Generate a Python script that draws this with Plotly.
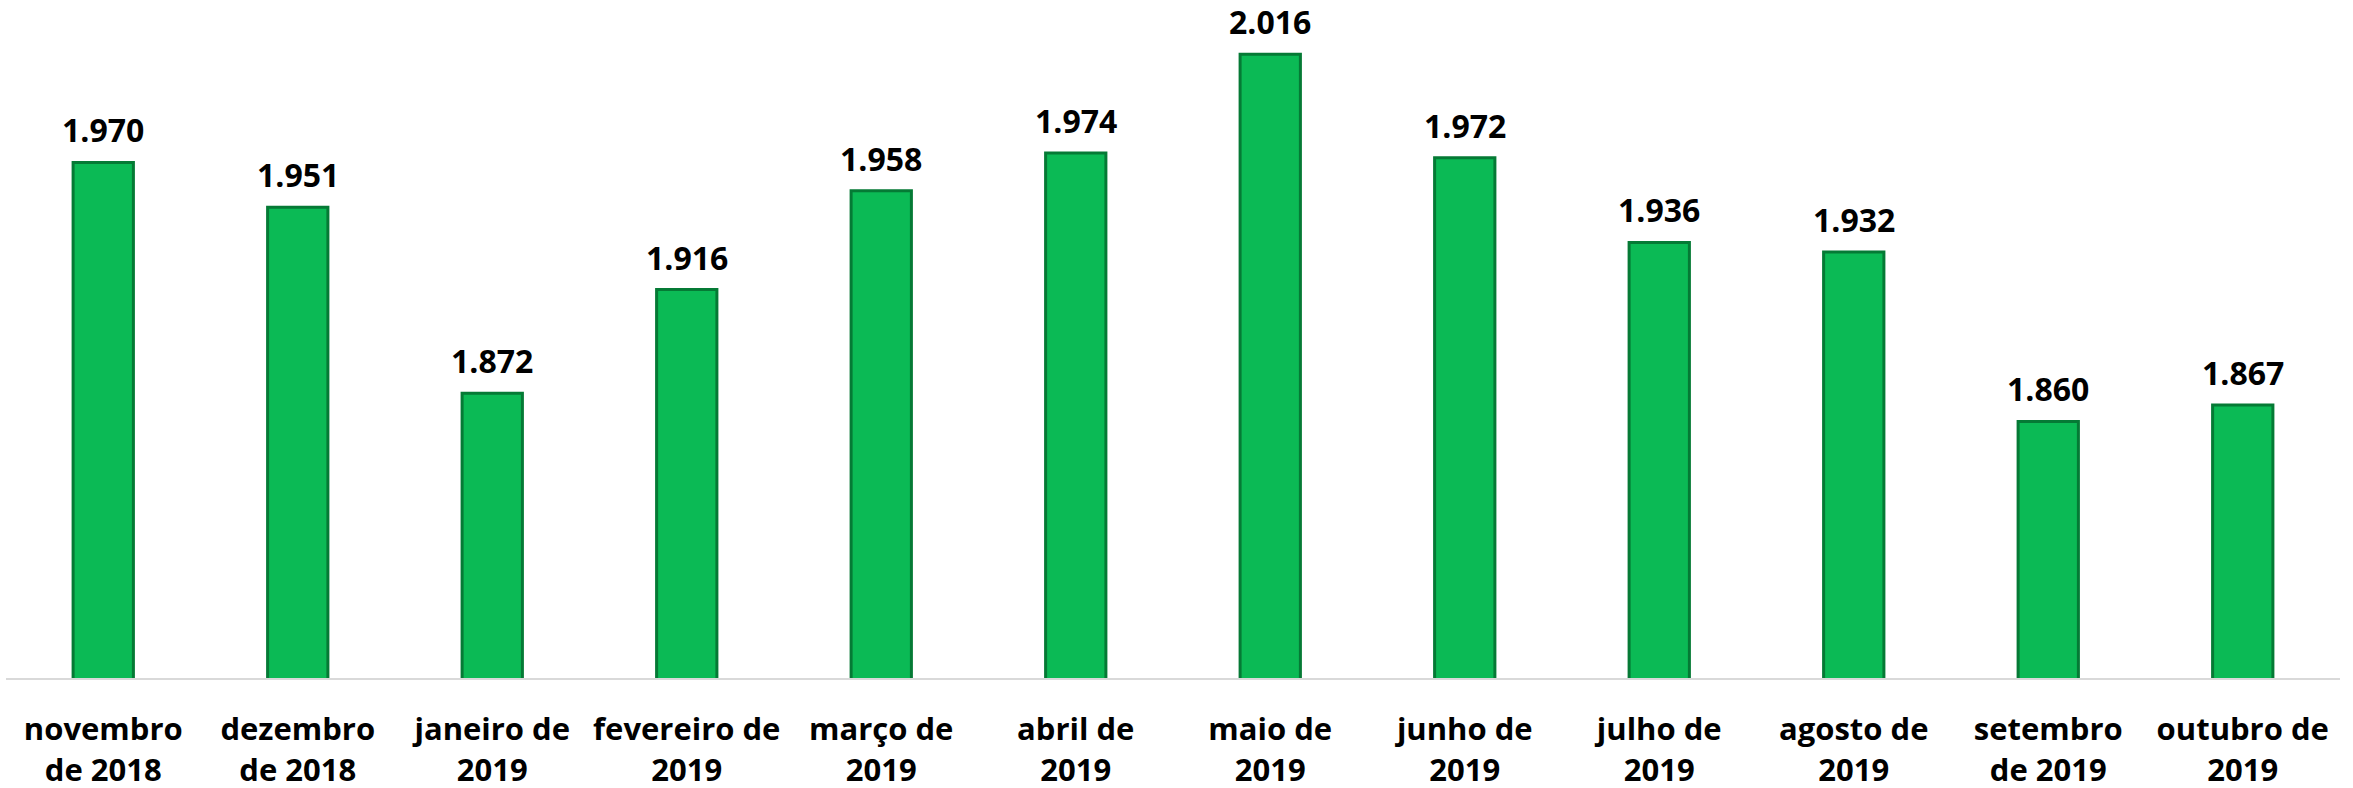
import plotly.graph_objects as go

categories = [
    "novembro<br>de 2018", "dezembro<br>de 2018", "janeiro de<br>2019",
    "fevereiro de<br>2019", "março de<br>2019", "abril de<br>2019",
    "maio de<br>2019", "junho de<br>2019", "julho de<br>2019",
    "agosto de<br>2019", "setembro<br>de 2019", "outubro de<br>2019",
]
values = [1970, 1951, 1872, 1916, 1958, 1974, 2016, 1972, 1936, 1932, 1860, 1867]

FONT = "Open Sans"

fig = go.Figure(
    go.Bar(
        x=categories,
        y=values,
        width=0.31,
        marker=dict(color="#0BBA55", line=dict(color="#057A35", width=3)),
        cliponaxis=False,
        hoverinfo="x+y",
    )
)

for c, v in zip(categories, values):
    fig.add_annotation(
        x=c, y=v, text=f"{v:,}".replace(",", "."),
        showarrow=False, yanchor="bottom", yshift=9,
        font=dict(family=FONT, size=32, color="#000000", weight="bold"),
    )

fig.update_layout(
    width=2353,
    height=788,
    margin=dict(l=6, r=13, t=0, b=110),
    paper_bgcolor="white",
    plot_bgcolor="white",
    separators=",.",
    showlegend=False,
)
fig.update_xaxes(
    showline=True, linecolor="#D9D9D9", linewidth=2,
    showgrid=False, ticks="", automargin=False,
    tickfont=dict(family=FONT, size=31, color="#000000", weight="bold"),
    ticklabelstandoff=23,
)
fig.update_yaxes(
    range=[1751, 2039], visible=False, showgrid=False, automargin=False,
)

fig.write_html(
    "out.html",
    config={"displayModeBar": False},
    post_script="document.body.style.margin='0';document.body.style.overflow='hidden';",
)
